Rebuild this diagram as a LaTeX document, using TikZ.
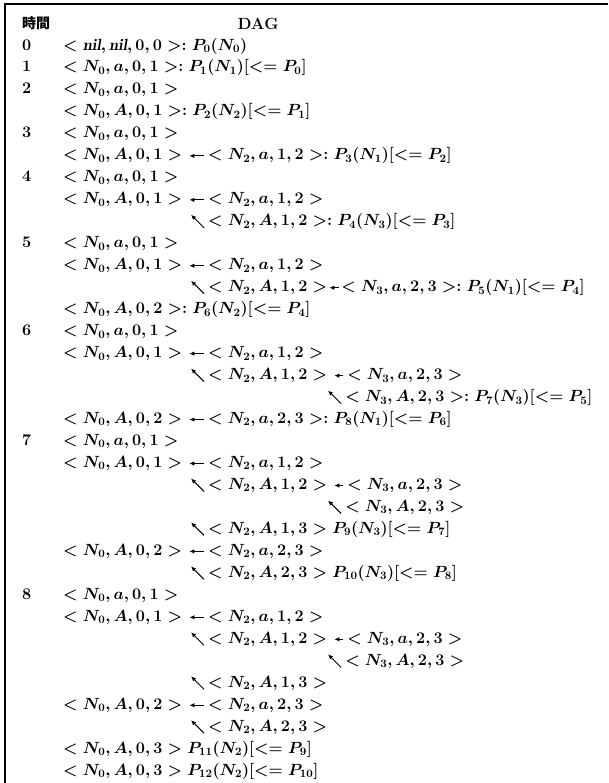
\RequirePackage{fix-cm}
\documentclass[tikz,border=0pt]{standalone}
\usepackage{amsmath,amssymb}
\usepackage{fontspec}
\newfontfamily\cjk{Noto Sans CJK JP}
\usetikzlibrary{arrows.meta}
\tikzset{tup/.style={anchor=west, inner sep=0pt, text height=12pt, text depth=4pt},
         lft/.style={->, line width=1pt, shorten <=4pt, shorten >=7pt}}
% kleiner Pfeil nach links oben vor einem Knoten
\newcommand{\nwa}[1]{\draw[->, line width=1pt] ([xshift=-4pt,yshift=-6pt]#1.west) -- ([xshift=-17pt,yshift=7pt]#1.west);}
\newcommand{\pre}[1]{[<=P_{#1}]}

\begin{document}
\begin{tikzpicture}[x=1pt, y=-21.97pt, >={Latex[length=5pt,width=4.5pt]},
					font=\fontsize{16.2}{20}\selectfont\bfseries\boldmath]
					\useasboundingbox (0,-1.094) rectangle (608,34.54);
					% Rahmen
					\draw[line width=1.2pt] (608,-0.911) -- (5,-0.911) -- (5,34.54);
					% Kopfzeile und Zeitspalte
					\node[tup] (h0) at (22,0) {\cjk\fontsize{14}{16}\selectfont 時間};
					\node (h1) at (258,0) {DAG};
					\foreach \t/\r in {0/1,1/2,2/3,3/5,4/7,5/10,6/14,7/19,8/26}
						\node[tup] (t\t) at (22,\r) {\t};
					% Zeit 0 bis 2
					\node[tup] (p1) at (63,1) {$<\mathit{nil},\mathit{nil},0,0>: P_0(N_0)$};
					\node[tup] (p2) at (63,2) {$<N_0,a,0,1>: P_1(N_1)\pre0$};
					\node[tup] (p3) at (63,3) {$<N_0,a,0,1>$};
					\node[tup] (p4) at (63,4) {$<N_0,A,0,1>: P_2(N_2)\pre1$};
					% Zeit 3
					\node[tup] (p5) at (63,5) {$<N_0,a,0,1>$};
					\node[tup] (p6) at (63,6) {$<N_0,A,0,1>$};
					\node[tup] (q6) at (208,6) {$<N_2,a,1,2>: P_3(N_1)\pre2$};
					% Zeit 4
					\node[tup] (p7) at (63,7) {$<N_0,a,0,1>$};
					\node[tup] (p8) at (63,8) {$<N_0,A,0,1>$};
					\node[tup] (q8) at (208,8) {$<N_2,a,1,2>$};
					\node[tup] (q9) at (208,9) {$<N_2,A,1,2>: P_4(N_3)\pre3$};
					% Zeit 5
					\node[tup] (p10) at (63,10) {$<N_0,a,0,1>$};
					\node[tup] (p11) at (63,11) {$<N_0,A,0,1>$};
					\node[tup] (q11) at (208,11) {$<N_2,a,1,2>$};
					\node[tup] (q12) at (208,12) {$<N_2,A,1,2>$};
					\node[tup] (s12) at (341,12) {$<N_3,a,2,3>: P_5(N_1)\pre4$};
					\node[tup] (p13) at (63,13) {$<N_0,A,0,2>: P_6(N_2)\pre4$};
					% Zeit 6
					\node[tup] (p14) at (63,14) {$<N_0,a,0,1>$};
					\node[tup] (p15) at (63,15) {$<N_0,A,0,1>$};
					\node[tup] (q15) at (208,15) {$<N_2,a,1,2>$};
					\node[tup] (q16) at (208,16) {$<N_2,A,1,2>$};
					\node[tup] (s16) at (347,16) {$<N_3,a,2,3>$};
					\node[tup] (s17) at (345,17) {$<N_3,A,2,3>: P_7(N_3)\pre5$};
					\node[tup] (p18) at (63,18) {$<N_0,A,0,2>$};
					\node[tup] (q18) at (208,18) {$<N_2,a,2,3>: P_8(N_1)\pre6$};
					% Zeit 7
					\node[tup] (p19) at (63,19) {$<N_0,a,0,1>$};
					\node[tup] (p20) at (63,20) {$<N_0,A,0,1>$};
					\node[tup] (q20) at (208,20) {$<N_2,a,1,2>$};
					\node[tup] (q21) at (208,21) {$<N_2,A,1,2>$};
					\node[tup] (s21) at (347,21) {$<N_3,a,2,3>$};
					\node[tup] (s22) at (345,22) {$<N_3,A,2,3>$};
					\node[tup] (q23) at (208,23) {$<N_2,A,1,3> P_9(N_3)\pre7$};
					\node[tup] (p24) at (63,24) {$<N_0,A,0,2>$};
					\node[tup] (q24) at (208,24) {$<N_2,a,2,3>$};
					\node[tup] (q25) at (208,25) {$<N_2,A,2,3> P_{10}(N_3)\pre8$};
					% Zeit 8
					\node[tup] (p26) at (63,26) {$<N_0,a,0,1>$};
					\node[tup] (p27) at (63,27) {$<N_0,A,0,1>$};
					\node[tup] (q27) at (208,27) {$<N_2,a,1,2>$};
					\node[tup] (q28) at (208,28) {$<N_2,A,1,2>$};
					\node[tup] (s28) at (347,28) {$<N_3,a,2,3>$};
					\node[tup] (s29) at (345,29) {$<N_3,A,2,3>$};
					\node[tup] (q30) at (208,30) {$<N_2,A,1,3>$};
					\node[tup] (p31) at (63,31) {$<N_0,A,0,2>$};
					\node[tup] (q31) at (208,31) {$<N_2,a,2,3>$};
					\node[tup] (q32) at (208,32) {$<N_2,A,2,3>$};
					\node[tup] (p33) at (63,33) {$<N_0,A,0,3> P_{11}(N_2)\pre9$};
					\node[tup] (p34) at (63,34) {$<N_0,A,0,3> P_{12}(N_2)\pre{10}$};
					% Kanten nach links
					\foreach \a/\b in {q6/p6,q8/p8,q11/p11,q15/p15,s16/q16,q18/p18,
						q20/p20,s21/q21,q24/p24,q27/p27,s28/q28,q31/p31}
						\draw[lft] (\a) -- (\b);
					\draw[lft, shorten <=2pt, shorten >=2pt] (s12) -- (q12);
					% Kanten nach links oben
					\foreach \c in {q9,q12,q16,s17,q21,s22,q23,q25,q28,s29,q30,q32}
						{\nwa{\c}}
\end{tikzpicture}
\end{document}
